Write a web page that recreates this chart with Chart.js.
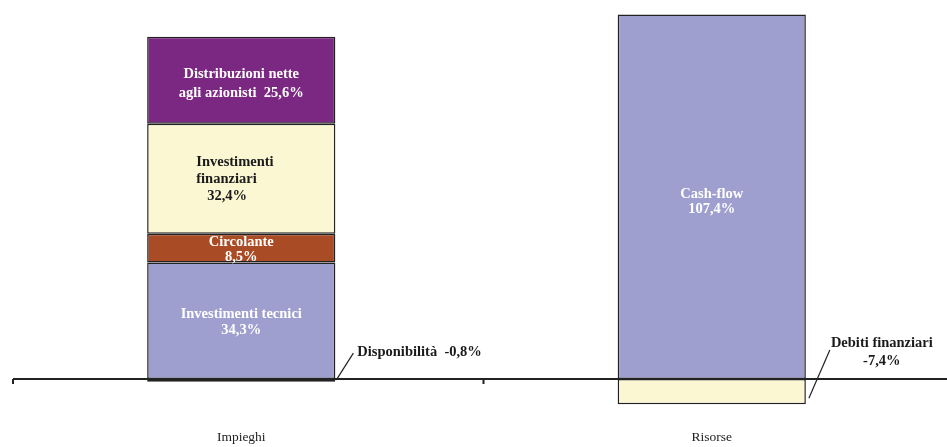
<!DOCTYPE html>
<html>
<head>
<meta charset="utf-8">
<script src="https://cdn.jsdelivr.net/npm/chart.js@4/dist/chart.umd.min.js"></script>
<style>
  html, body { margin: 0; padding: 0; background: #fff; overflow: hidden; }
  #wrap { width: 947px; height: 447px; }
</style>
</head>
<body>
<div id="wrap"><canvas id="fonti-impieghi"></canvas></div>
<script>
const categories = ['Impieghi', 'Risorse'];

// impieghi
const invTecnici = [34.3, null];
const circolante = [8.5, null];
const invFinanziari = [32.4, null];
const distribuzioni = [25.6, null];
const disponibilita = [-0.8, null];

// risorse
const cashFlow = [null, 107.4];
const debitiFin = [null, -7.4];

const yMin = -3.8;
const yMax = 108.1;

function pct(v) {
    return v.toFixed(1).replace('.', ',') + '%';
}

const SERIF = '"Liberation Serif", "Times New Roman", serif';

// testi dentro le barre + etichette esterne con linea di richiamo
const barLabels = {
    id: 'barLabels',
    afterDatasetsDraw(chart) {
        const ctx = chart.ctx;
        ctx.save();
        ctx.font = 'bold 14.5px ' + SERIF;
        ctx.textBaseline = 'middle';
        chart.data.datasets.forEach((ds, i) => {
            const meta = chart.getDatasetMeta(i);
            meta.data.forEach((bar, j) => {
                const v = ds.data[j];
                if (v == null || !ds.caption) return;
                const lines = ds.caption(v);
                const right = bar.x + bar.width / 2;
                if (ds.outside) {
                    // linea di richiamo
                    const o = ds.outside;
                    ctx.strokeStyle = '#222';
                    ctx.lineWidth = 1.2;
                    ctx.beginPath();
                    ctx.moveTo(right + o.from[0], bar.y + o.from[1]);
                    ctx.lineTo(right + o.to[0], bar.base + o.to[1]);
                    ctx.stroke();
                    ctx.fillStyle = '#1a1a1a';
                    ctx.textAlign = o.align;
                    lines.forEach((t, k) => {
                        ctx.fillText(t, right + o.text[0], bar.base + o.text[1] + k * 17.5);
                    });
                    return;
                }
                const lh = ds.lh || 16;
                const mid = (bar.y + bar.base) / 2 + (ds.dy || 0);
                const y0 = mid - (lines.length - 1) * lh / 2;
                ctx.fillStyle = ds.captionColor || '#fff';
                ctx.textAlign = ds.captionAlign || 'center';
                const x = bar.x + (ds.dx || 0);
                lines.forEach((t, k) => ctx.fillText(t, x, y0 + k * lh));
            });
        });
        ctx.restore();
    }
};

// asse dello zero con le tacche tra le categorie
const zeroAxis = {
    id: 'zeroAxis',
    afterDatasetsDraw(chart) {
        const ctx = chart.ctx;
        const area = chart.chartArea;
        const xs = chart.scales.x;
        const y0 = chart.scales.y.getPixelForValue(0);
        const step = xs.getPixelForValue(1) - xs.getPixelForValue(0);
        ctx.save();
        ctx.strokeStyle = '#222';
        ctx.lineWidth = 2;
        ctx.beginPath();
        ctx.moveTo(area.left + 7, y0);
        ctx.lineTo(chart.width, y0);
        ctx.stroke();
        ctx.beginPath();
        for (let i = 0; i < categories.length; i++) {
            const bx = xs.getPixelForValue(i) - step / 2 + 7;
            ctx.moveTo(bx, y0);
            ctx.lineTo(bx, y0 + 5);
        }
        ctx.stroke();
        ctx.restore();
    }
};

const lavanda = '#9e9fcf';
const giallo = '#faf7d2';

const ctx = document.getElementById('fonti-impieghi');
const myChart = new Chart(ctx, {
    type: 'bar',
    data: {
        labels: categories,
        datasets: [
            {
                label: 'Investimenti tecnici',
                data: invTecnici,
                backgroundColor: lavanda,
                caption: v => ['Investimenti tecnici', pct(v)],
                dy: 1
            },
            {
                label: 'Cash-flow',
                data: cashFlow,
                backgroundColor: lavanda,
                caption: v => ['Cash-flow', pct(v)],
                dy: 5.5,
                lh: 15
            },
            {
                label: 'Circolante',
                data: circolante,
                backgroundColor: '#a94b24',
                caption: v => ['Circolante', pct(v)],
                dy: 2,
                lh: 15
            },
            {
                label: 'Investimenti finanziari',
                data: invFinanziari,
                backgroundColor: giallo,
                caption: v => ['Investimenti', 'finanziari', '   ' + pct(v)],
                captionColor: '#1a1a1a',
                captionAlign: 'left',
                dx: -45,
                dy: 1,
                lh: 17
            },
            {
                label: 'Distribuzioni nette agli azionisti',
                data: distribuzioni,
                backgroundColor: '#7b2882',
                caption: v => ['Distribuzioni nette', 'agli azionisti  ' + pct(v)],
                dy: 3,
                lh: 19
            },
            {
                label: 'Disponibilità',
                data: disponibilita,
                backgroundColor: '#3a3a3a',
                caption: v => ['Disponibilità  ' + pct(v)],
                outside: { from: [1, -2], to: [18, -26], text: [22, -27], align: 'left' }
            },
            {
                label: 'Debiti finanziari',
                data: debitiFin,
                backgroundColor: giallo,
                caption: v => ['Debiti finanziari', pct(v)],
                outside: { from: [3, -6], to: [24, -29], text: [76, -35.5], align: 'center' }
            }
        ]
    },
    options: {
        responsive: true,
        maintainAspectRatio: false,
        animation: false,
        layout: { padding: { left: 6, right: 0, top: 12, bottom: 0 } },
        datasets: {
            bar: {
                categoryPercentage: 1,
                barPercentage: 0.4,
                borderColor: '#222',
                borderWidth: 1.5,
                borderSkipped: false,
                clip: false
            }
        },
        plugins: {
            legend: { display: false },
            tooltip: { enabled: false }
        },
        scales: {
            x: {
                stacked: true,
                grid: { display: false },
                border: { display: false },
                afterFit: scale => { scale.height = 55; },
                ticks: {
                    color: '#222',
                    padding: 29,
                    maxRotation: 0,
                    font: { family: SERIF, size: 13.5 }
                }
            },
            y: {
                stacked: true,
                display: false,
                min: yMin,
                max: yMax
            }
        }
    },
    plugins: [barLabels, zeroAxis]
});
</script>
</body>
</html>
